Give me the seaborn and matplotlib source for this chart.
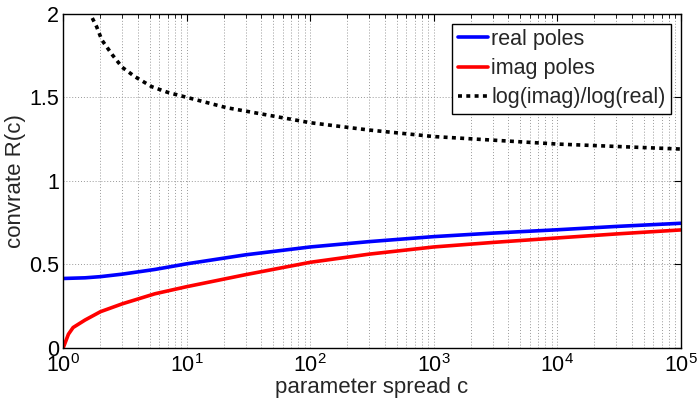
import numpy as np
import pandas as pd
import matplotlib
matplotlib.use("Agg")
import matplotlib.pyplot as plt
import seaborn as sns
from matplotlib.ticker import LogLocator, FixedLocator, NullFormatter, LogFormatterMathtext

# ---- data ----
c_real = [1, 1.5, 2, 3, 5.5, 10, 30, 100, 300, 1000, 3000, 1e4, 3e4, 1e5]
r_real = [0.414, 0.418, 0.425, 0.440, 0.468, 0.502, 0.556, 0.603, 0.635, 0.665, 0.686, 0.706, 0.726, 0.745]

c_imag = [1, 1.1, 1.2, 1.5, 2, 3, 5.5, 10, 30, 100, 300, 1000, 3000, 1e4, 3e4, 1e5]
r_imag = [0.0, 0.08, 0.12, 0.165, 0.215, 0.262, 0.322, 0.365, 0.437, 0.511, 0.560, 0.603, 0.630, 0.657, 0.681, 0.705]

c_ratio = [1.6, 1.86, 2.05, 2.5, 3, 3.8, 5.2, 7, 10, 21, 100, 300, 1000, 1e4, 1e5]
r_ratio = [2.02, 1.924, 1.844, 1.754, 1.68, 1.624, 1.564, 1.53, 1.50, 1.438, 1.348, 1.304, 1.265, 1.220, 1.19]

labels = ["real poles", "imag poles", "log(imag)/log(real)"]
y_ticks = [0, 0.5, 1, 1.5, 2]
y_ticklabels = ["0", "0.5", "1", "1.5", "2"]

sns.set_style("white")
plt.rcParams['font.family'] = ['Liberation Sans', 'DejaVu Sans']
plt.rcParams['mathtext.default'] = 'regular'

fig = plt.figure(figsize=(6.99, 3.99), dpi=100)
ax = fig.add_axes([0.0906, 0.129, 0.8832, 0.836])

df_real = pd.DataFrame({"c": c_real, "R": r_real})
df_imag = pd.DataFrame({"c": c_imag, "R": r_imag})
df_ratio = pd.DataFrame({"c": c_ratio, "R": r_ratio})

sns.lineplot(data=df_real, x="c", y="R", ax=ax, color="#0000ff", linewidth=2.6, label=labels[0])
sns.lineplot(data=df_imag, x="c", y="R", ax=ax, color="#ff0000", linewidth=2.6, label=labels[1])
sns.lineplot(data=df_ratio, x="c", y="R", ax=ax, color="black", linewidth=2.6,
             linestyle=(0, (1.1, 1.2)), label=labels[2])

ax.set_xscale("log")
ax.set_xlim(1, 1e5)
ax.set_ylim(0, 2)
ax.xaxis.set_major_locator(LogLocator(base=10, numticks=10))
ax.xaxis.set_minor_locator(LogLocator(base=10, subs=np.arange(2, 10), numticks=20))
ax.xaxis.set_major_formatter(LogFormatterMathtext())
ax.xaxis.set_minor_formatter(NullFormatter())
ax.yaxis.set_major_locator(FixedLocator(y_ticks))
ax.set_yticklabels(y_ticklabels)

ax.grid(True, which="major", axis="both", linestyle=(0, (1, 2)), linewidth=0.7, color="0.6")
ax.grid(True, which="minor", axis="x", linestyle=(0, (1, 2)), linewidth=0.7, color="0.6")

ax.tick_params(which="both", direction="in", top=True, right=True, colors="black",
               labelsize=15.5)
ax.tick_params(axis="y", pad=3)
ax.tick_params(axis="x", pad=5)
ax.tick_params(which="major", length=5, width=0.8)
ax.tick_params(which="minor", length=3, width=0.6)
for s in ax.spines.values():
    s.set_visible(True)
    s.set_color("black")
    s.set_linewidth(1.0)

ax.set_xlabel("parameter spread c", fontsize=16, labelpad=0)
ax.set_ylabel("convrate R(c)", fontsize=16, labelpad=2)

leg = ax.legend(loc="upper right", fontsize=15.5, frameon=True, fancybox=False,
                framealpha=1, edgecolor="black", handlelength=1.4, handletextpad=0.15,
                borderpad=0.25, labelspacing=0.38, borderaxespad=0.45)
leg.get_frame().set_linewidth(1.0)

fig.savefig("out.png", dpi=100)
